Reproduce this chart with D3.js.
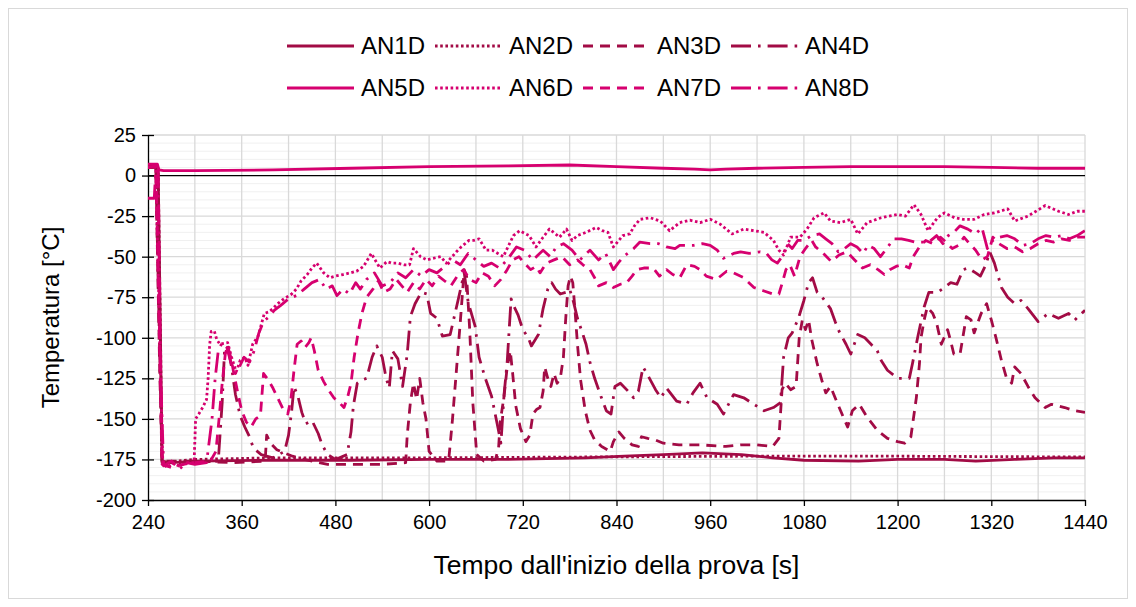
<!DOCTYPE html>
<html lang="it">
<head>
<meta charset="utf-8">
<title>Temperatura AN1D-AN8D</title>
<script src="https://cdn.jsdelivr.net/npm/d3@7"></script>
<style>
  body { margin: 0; background: #fff; }
  text { font-family: "Liberation Sans", Arial, sans-serif; fill: #000; }
  .grid-minor line { stroke: #f0f0f0; stroke-width: 1; }
  .grid-major line { stroke: #d9d9d9; stroke-width: 1.3; }
  .axis path, .axis line { stroke: #000; stroke-width: 1.3; }
  .series { fill: none; stroke-width: 2.8; stroke-linejoin: round; }
</style>
</head>
<body>
<svg id="chart" width="1136" height="607"></svg>
<script>

// series: [tempo s, temperatura °C]
var an1d = [[240,6],[250,6],[253,4],[256,-100],[258,-176],[270,-177],[300,-176],[400,-175.5],[500,-175.5],
  [600,-175],[700,-175],[800,-174],[850,-173],[900,-172],[950,-171],[1000,-172],[1040,-174],[1080,-175.5],
  [1150,-176],[1200,-175],[1260,-175],[1300,-176],[1350,-175],[1400,-174],[1440,-174]];

var an2d = [[240,5],[253,5],[256,-100],[258,-177],[300,-175],[400,-174],[600,-174],[800,-173.5],
  [1000,-173],[1200,-173],[1440,-173.5]];

var an3d = [[240,5],[250,5],[255,-120],[258,-176],[300,-176],[350,-177],[390,-176],[392,-160],[397,-165],
  [405,-169],[415,-171],[425,-173],[440,-175],[470,-178],[500,-178],[540,-178],[570,-177],[572,-160],
  [576,-140],[580,-128],[584,-138],[588,-125],[592,-140],[596,-150],[600,-170],[610,-176],[625,-176],
  [630,-150],[635,-120],[640,-90],[645,-58],[648,-62],[652,-95],[656,-140],[661,-172],[670,-176],
  [685,-175],[689,-168],[691,-152],[696,-136],[700,-118],[704,-108],[707,-122],[711,-142],[717,-156],
  [724,-164],[729,-160],[733,-147],[738,-144],[742,-143],[746,-133],[748,-118],[752,-125],[756,-130],
  [760,-122],[764,-128],[768,-125],[772,-112],[775,-88],[778,-68],[781,-62],[784,-66],[787,-84],
  [790,-104],[794,-126],[800,-145],[806,-157],[812,-163],[821,-167],[832,-170],[836,-164],[843,-158],
  [850,-162],[860,-166],[868,-167],[872,-161],[880,-162],[890,-163],[900,-165],[920,-166],[947,-166],
  [980,-167],[1000,-166],[1020,-166],[1040,-167],[1048,-162],[1052,-132],[1056,-128],[1063,-132],
  [1070,-130],[1074,-100],[1078,-89],[1082,-95],[1086,-89],[1090,-101],[1097,-116],[1104,-128],
  [1108,-134],[1114,-130],[1120,-137],[1127,-145],[1136,-155],[1142,-145],[1151,-141],[1161,-149],
  [1174,-157],[1187,-162],[1200,-164],[1209,-165],[1217,-161],[1224,-137],[1228,-116],[1230,-100],
  [1234,-89],[1238,-81],[1245,-85],[1250,-91],[1256,-104],[1264,-95],[1268,-102],[1272,-110],
  [1280,-110],[1288,-87],[1294,-89],[1298,-97],[1307,-85],[1314,-79],[1320,-89],[1326,-100],
  [1333,-114],[1339,-124],[1346,-128],[1350,-118],[1358,-122],[1367,-130],[1376,-137],[1389,-143],
  [1397,-141],[1414,-143],[1427,-145],[1440,-146]];

var an4d = [[240,5],[250,5],[255,-110],[258,-177],[300,-177],[330,-176],[335,-140],[338,-108],[342,-105],
  [347,-118],[352,-135],[358,-148],[364,-155],[370,-161],[375,-168],[385,-172],[400,-174],[415,-170],
  [420,-160],[424,-145],[427,-130],[432,-136],[437,-146],[442,-153],[450,-151],[458,-159],[463,-166],
  [470,-172],[480,-175],[495,-172],[500,-158],[503,-142],[508,-128],[514,-126],[520,-125],[527,-112],
  [533,-105],[540,-112],[545,-125],[549,-131],[553,-108],[560,-113],[566,-130],[572,-110],[576,-87],
  [582,-79],[590,-72],[597,-73],[602,-85],[610,-88],[617,-99],[627,-98],[637,-77],[645,-60],[650,-78],
  [659,-93],[664,-112],[672,-125],[680,-136],[688,-155],[692,-165],[696,-135],[700,-115],[705,-76],
  [708,-80],[714,-86],[720,-95],[727,-100],[731,-105],[740,-98],[746,-82],[752,-70],[757,-66],
  [762,-70],[768,-73],[775,-72],[780,-70],[785,-78],[790,-88],[797,-98],[801,-104],[806,-115],
  [812,-125],[820,-136],[827,-145],[833,-147],[838,-130],[845,-128],[855,-133],[862,-137],[868,-133],
  [874,-118],[880,-123],[890,-132],[897,-137],[904,-131],[917,-139],[930,-141],[938,-134],[947,-128],
  [956,-137],[969,-141],[977,-147],[990,-135],[1003,-137],[1016,-141],[1029,-145],[1041,-143],
  [1050,-140],[1054,-112],[1060,-100],[1065,-97],[1073,-88],[1080,-77],[1086,-66],[1091,-63],
  [1097,-72],[1105,-76],[1114,-82],[1120,-90],[1125,-96],[1134,-104],[1140,-110],[1149,-98],
  [1158,-100],[1166,-104],[1174,-108],[1179,-114],[1187,-120],[1200,-125],[1215,-125],[1219,-116],
  [1226,-99],[1234,-81],[1240,-72],[1251,-72],[1260,-69],[1268,-66],[1276,-67],[1284,-58],[1290,-57],
  [1300,-60],[1306,-62],[1313,-55],[1318,-47],[1324,-54],[1333,-69],[1341,-75],[1350,-79],[1358,-77],
  [1367,-82],[1380,-90],[1393,-85],[1406,-88],[1419,-85],[1427,-89],[1440,-83]];

var an5d = [[240,7],[252,7],[254,3.5],[260,3],[300,3],[400,3.5],[500,4.5],[600,5.5],[700,6],[780,6.5],
  [840,5.5],[900,4.5],[940,4],[960,3.5],[980,4],[1020,4.5],[1080,5],[1140,5.5],[1200,5.5],[1260,5.5],
  [1320,5],[1380,4.5],[1440,4.5]];

var an6d = [[240,5],[250,5],[255,-100],[259,-178],[265,-180],[270,-177],[280,-179],[290,-177],[299,-177],
  [301,-150],[305,-147],[310,-143],[315,-138],[317,-125],[319,-104],[321,-96],[325,-96],[328,-101],
  [332,-104],[342,-103],[347,-112],[353,-121],[358,-114],[364,-112],[368,-117],[374,-104],[381,-99],
  [385,-92],[389,-85],[395,-84],[400,-82],[406,-79],[414,-76],[424,-73],[430,-70],[436,-65],[444,-61],
  [450,-57],[456,-54],[465,-60],[473,-63],[480,-62],[490,-61],[499,-60],[507,-59],[516,-56],[526,-48],
  [532,-53],[537,-57],[546,-53],[552,-54],[560,-54],[568,-55],[575,-55],[580,-45],[589,-50],[597,-52],
  [605,-51],[615,-50],[622,-54],[635,-47],[641,-44],[651,-40],[657,-40],[664,-39],[673,-46],[681,-46],
  [688,-48],[695,-50],[703,-42],[708,-37],[716,-34],[728,-37],[737,-44],[746,-38],[754,-33],[762,-36],
  [767,-38],[776,-33],[783,-40],[790,-37],[801,-35],[814,-32],[822,-34],[829,-35],[836,-44],[848,-37],
  [857,-36],[863,-31],[870,-27],[883,-26],[896,-28],[908,-34],[921,-29],[934,-27.5],[947,-29],[960,-27],
  [973,-30],[988,-36],[1003,-33],[1016,-34],[1029,-35],[1041,-40],[1048,-46],[1054,-49],[1063,-38],
  [1075,-38],[1084,-33],[1093,-26],[1106,-23],[1114,-28],[1127,-29],[1140,-27],[1149,-36],[1161,-29],
  [1179,-26],[1200,-24],[1210,-25],[1221,-18],[1230,-24],[1239,-34],[1251,-26],[1260,-23],[1273,-26],
  [1284,-27],[1298,-27],[1311,-24],[1324,-23],[1341,-20.5],[1350,-28],[1367,-25],[1389,-18.5],
  [1406,-22],[1419,-24],[1430,-22],[1440,-22]];

var an7d = [[240,5],[250,6],[254,-80],[258,-178],[270,-180],[285,-178],[300,-177],[320,-176],[327,-170],
  [331,-150],[335,-128],[339,-110],[342,-105],[346,-112],[350,-122],[355,-134],[360,-145],[366,-152],
  [372,-155],[378,-150],[384,-148],[388,-122],[394,-126],[400,-131],[407,-138],[414,-145],[419,-147],
  [423,-138],[427,-120],[431,-104],[436,-102],[441,-106],[446,-103],[449,-100],[453,-108],[458,-120],
  [465,-127],[471,-132],[478,-137],[485,-140],[491,-143],[496,-136],[500,-128],[504,-112],[509,-97],
  [514,-85],[520,-75],[528,-70],[535,-65],[542,-72],[550,-70],[558,-64],[565,-68],[572,-72],[580,-66],
  [588,-70],[596,-64],[604,-68],[612,-62],[620,-65],[628,-68],[636,-62],[644,-58],[652,-64],[660,-66],
  [668,-60],[676,-62],[684,-68],[692,-64],[700,-58],[707,-52],[715,-50],[722,-54],[730,-58],[737,-56],
  [742,-60],[750,-54],[760,-52],[770,-50],[780,-55],[790,-52],[797,-55],[806,-58],[812,-63],[817,-68],
  [827,-66],[836,-69],[845,-67],[853,-66],[860,-62],[866,-58],[875,-57],[887,-57],[895,-62],[904,-58],
  [912,-61],[921,-63],[930,-55],[940,-56],[947,-58],[955,-62],[968,-64],[981,-59],[990,-60],[1003,-63],
  [1016,-69],[1028,-71],[1040,-73],[1048,-73],[1053,-65],[1057,-58],[1062,-55],[1068,-62],[1075,-50],
  [1082,-45],[1090,-40],[1095,-44],[1105,-48],[1115,-53],[1125,-49],[1135,-47],[1145,-52],[1155,-57],
  [1165,-55],[1175,-58],[1183,-61],[1190,-58],[1198,-56],[1206,-55],[1215,-57],[1220,-50],[1228,-44],
  [1236,-40],[1245,-42],[1255,-38],[1262,-41],[1270,-45],[1278,-43],[1285,-38],[1292,-42],[1300,-46],
  [1308,-52],[1315,-50],[1322,-38],[1330,-42],[1340,-45],[1350,-44],[1360,-47],[1370,-45],[1380,-42],
  [1390,-40],[1400,-41],[1410,-39],[1420,-40],[1430,-38],[1440,-38]];

var an8d = [[240,-14],[248,-14],[250,4],[253,4],[256,-120],[260,-179],[270,-176],[280,-181],[290,-177],
  [300,-178],[315,-177],[322,-150],[326,-125],[330,-108],[335,-103],[341,-106],[346,-115],[352,-122],
  [357,-118],[363,-112],[370,-115],[376,-108],[382,-97],[388,-90],[395,-87],[402,-83],[410,-80],
  [420,-76],[430,-74],[440,-70],[450,-66],[460,-64],[468,-70],[476,-68],[482,-74],[490,-70],[498,-73],
  [506,-66],[512,-70],[520,-64],[530,-60],[540,-68],[550,-66],[560,-60],[570,-63],[580,-58],[590,-62],
  [600,-58],[610,-60],[620,-56],[630,-52],[640,-55],[650,-48],[660,-52],[670,-56],[680,-54],[690,-57],
  [700,-52],[712,-44],[722,-46],[733,-52],[746,-46],[755,-50],[763,-44],[772,-42],[783,-46],[793,-52],
  [806,-46],[817,-52],[826,-48],[836,-58],[842,-54],[849,-50],[862,-45],[870,-41],[883,-42],[894,-42],
  [904,-44],[915,-45],[921,-43],[930,-43],[939,-43],[950,-42],[960,-43],[969,-46],[977,-51],[990,-48],
  [999,-47],[1010,-48],[1024,-47],[1032,-48],[1039,-52],[1046,-54],[1052,-50],[1059,-42],[1065,-45],
  [1072,-40],[1080,-40],[1090,-37],[1100,-36],[1108,-39],[1116,-42],[1124,-47],[1132,-45],[1140,-42],
  [1148,-44],[1156,-48],[1162,-43],[1170,-45],[1178,-50],[1186,-45],[1195,-39],[1205,-39],[1214,-40],
  [1222,-41],[1230,-41],[1240,-41],[1250,-37],[1258,-42],[1265,-37],[1272,-35],[1280,-31],[1290,-33],
  [1300,-36],[1308,-32],[1315,-45],[1322,-40],[1330,-38],[1340,-37],[1350,-39],[1360,-43],[1370,-42],
  [1380,-39],[1390,-37],[1400,-38],[1410,-37],[1420,-39],[1430,-37],[1440,-34]];

var seriesNames = ["AN1D","AN2D","AN3D","AN4D","AN5D","AN6D","AN7D","AN8D"];
var seriesData = [an1d, an2d, an3d, an4d, an5d, an6d, an7d, an8d];
var xTicks = [240,360,480,600,720,840,960,1080,1200,1320,1440];
var yTicks = [25,0,-25,-50,-75,-100,-125,-150,-175,-200];

var dark = "#a20b45", pink = "#d6006f";
var colors = [dark, dark, dark, dark, pink, pink, pink, pink];
var dashes = ["none", "2.6,2.6", "10,7", "20,7,2.6,7", "none", "2.6,2.6", "10,7", "20,7,2.6,7"];

var svg = d3.select("#chart");

svg.append("rect")
    .attr("x", 8.5).attr("y", 8.5)
    .attr("width", 1119).attr("height", 590)
    .attr("fill", "#fff").attr("stroke", "#d9d9d9");

var plotLeft = 148, plotRight = 1085, plotTop = 135, plotBottom = 500;

var x = d3.scaleLinear().domain([240, 1440]).range([plotLeft, plotRight]);
var y = d3.scaleLinear().domain([-200, 25]).range([plotBottom, plotTop]);
var fmt = function(d) { return String(d); };

// gridlines
svg.append("g").attr("class", "grid-minor")
  .selectAll("line").data(d3.range(-200, 26, 5).filter(function(v) { return v % 25 != 0; }))
  .enter().append("line")
    .attr("x1", plotLeft).attr("x2", plotRight)
    .attr("y1", function(d) { return y(d); }).attr("y2", function(d) { return y(d); });

var gm = svg.append("g").attr("class", "grid-major");
gm.selectAll("line.h").data(yTicks.filter(function(v) { return v != -200 && v != 0; }))
  .enter().append("line").attr("class", "h")
    .attr("x1", plotLeft).attr("x2", plotRight)
    .attr("y1", function(d) { return y(d); }).attr("y2", function(d) { return y(d); });
gm.selectAll("line.v").data(d3.range(300, 1441, 60))
  .enter().append("line").attr("class", "v")
    .attr("y1", plotTop).attr("y2", plotBottom)
    .attr("x1", function(d) { return x(d); }).attr("x2", function(d) { return x(d); });

// zero line
svg.append("line")
    .attr("x1", plotLeft).attr("x2", plotRight)
    .attr("y1", y(0)).attr("y2", y(0))
    .attr("stroke", "#000").attr("stroke-width", 1.3);

// axes
var xAxis = svg.append("g").attr("class", "axis")
    .attr("transform", "translate(0," + plotBottom + ")")
    .call(d3.axisBottom(x).tickValues(xTicks).tickFormat(fmt).tickSize(6).tickSizeOuter(0).tickPadding(9));
xAxis.selectAll("text").style("font-size", "20px");

var yAxis = svg.append("g").attr("class", "axis")
    .attr("transform", "translate(" + plotLeft + ",0)")
    .call(d3.axisLeft(y).tickValues(yTicks).tickFormat(fmt).tickSize(6).tickSizeOuter(0).tickPadding(6));
yAxis.selectAll(".tick line").attr("x1", 6);
yAxis.selectAll("text").style("font-size", "20px");

// series
svg.append("clipPath").attr("id", "plot")
  .append("rect").attr("x", plotLeft).attr("y", plotTop - 5)
    .attr("width", plotRight - plotLeft).attr("height", plotBottom - plotTop + 10);

var line = d3.line()
    .x(function(d) { return x(d[0]); })
    .y(function(d) { return y(d[1]); });

svg.append("g").attr("clip-path", "url(#plot)")
  .selectAll("path").data(seriesData)
  .enter().append("path")
    .attr("class", "series")
    .attr("d", line)
    .attr("stroke", function(d, i) { return colors[i]; })
    .attr("stroke-dasharray", function(d, i) { return dashes[i]; });

// axis titles
svg.append("text")
    .attr("x", (plotLeft + plotRight) / 2).attr("y", 574)
    .attr("text-anchor", "middle")
    .style("font-size", "26.5px")
    .text("Tempo dall'inizio della prova [s]");

svg.append("text")
    .attr("transform", "translate(59," + ((plotTop + plotBottom) / 2) + ") rotate(-90)")
    .attr("text-anchor", "middle")
    .style("font-size", "24px")
    .text("Temperatura [°C]");

// legend
var legend = svg.append("g").selectAll("g").data(seriesNames)
  .enter().append("g")
    .attr("transform", function(d, i) {
      return "translate(" + (287 + (i % 4) * 148) + "," + (i < 4 ? 46 : 88) + ")";
    });
legend.append("line")
    .attr("x1", 0).attr("x2", 67)
    .attr("stroke-width", 2.8)
    .attr("stroke", function(d, i) { return colors[i]; })
    .attr("stroke-dasharray", function(d, i) { return dashes[i]; });
legend.append("text")
    .attr("x", 74).attr("dy", "0.35em")
    .style("font-size", "24px")
    .text(function(d) { return d; });

</script>
</body>
</html>
